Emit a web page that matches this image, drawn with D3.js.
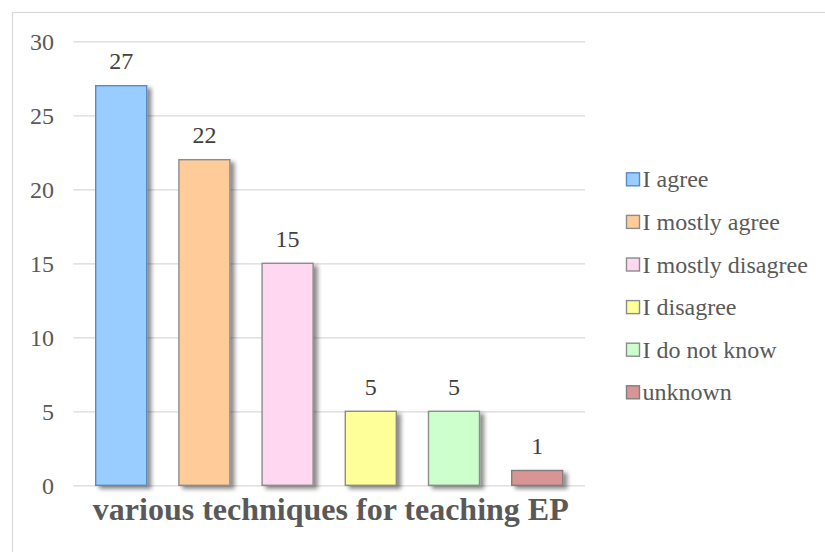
<!DOCTYPE html>
<html>
<head>
<meta charset="utf-8">
<script src="https://cdn.jsdelivr.net/npm/d3@7"></script>
<style>
  html, body { margin: 0; padding: 0; background: #ffffff; }
  svg { display: block; }
  text { font-family: "Liberation Serif", "Times New Roman", serif; }
</style>
</head>
<body>
<svg id="chart" width="825" height="552"></svg>
<script>
// Survey answers about various techniques for teaching EP
const categories = ["I agree", "I mostly agree", "I mostly disagree", "I disagree", "I do not know", "unknown"];
const counts = [27, 22, 15, 5, 5, 1];
const fills = ["#99ccff", "#ffcc99", "#ffd7f1", "#ffff99", "#ccffcc", "#d99594"];
const strokes = ["#5a8ac6", "#8c8c8c", "#8c8c8c", "#8c8c8c", "#8c8c8c", "#7f7f7f"];
const yTicks = [0, 5, 10, 15, 20, 25, 30];
const axisTitle = "various techniques for teaching EP";

const svg = d3.select("#chart");

// soft drop shadow under each bar
const defs = svg.append("defs");
const shadow = defs.append("filter").attr("id", "barShadow")
  .attr("x", "-20%").attr("y", "-20%").attr("width", "160%").attr("height", "160%");
shadow.append("feDropShadow")
  .attr("dx", 4).attr("dy", 3).attr("stdDeviation", 2.2)
  .attr("flood-color", "#000").attr("flood-opacity", 0.45);

// chart frame
svg.append("rect")
  .attr("x", 12.5).attr("y", 12.5).attr("width", 900).attr("height", 900)
  .attr("fill", "none").attr("stroke", "#d9d9d9").attr("stroke-width", 1.2);

const plotLeft = 73.3, plotRight = 585;
const y = d3.scaleLinear().domain([0, 30]).range([485.3, 41.3]);
const x = d3.scaleBand().domain(categories)
  .range([79.6, 578.8]).paddingInner(0.387).paddingOuter(0.1935);

// horizontal gridlines and value axis
const yAxis = d3.axisLeft(y).tickValues(yTicks).tickSize(-(plotRight - plotLeft)).tickPadding(20);
const gy = svg.append("g").attr("transform", `translate(${plotLeft},0)`).call(yAxis);
gy.select(".domain").remove();
gy.selectAll(".tick line").attr("stroke", "#d9d9d9").attr("stroke-width", 1.3);
gy.selectAll(".tick text")
  .attr("x", 54 - plotLeft)
  .attr("dy", null)
  .attr("y", 8.3)
  .attr("fill", "#595959")
  .style("font-family", "'Liberation Serif', 'Times New Roman', serif")
  .style("font-size", "24px");

// bars
svg.append("g").selectAll("rect")
  .data(counts)
  .join("rect")
  .attr("x", (d, i) => x(categories[i]))
  .attr("y", d => y(d))
  .attr("width", x.bandwidth())
  .attr("height", d => y(0) - y(d))
  .attr("fill", (d, i) => fills[i])
  .attr("stroke", (d, i) => strokes[i])
  .attr("stroke-width", 1.4)
  .attr("filter", "url(#barShadow)");

// value labels above bars
svg.append("g").selectAll("text")
  .data(counts)
  .join("text")
  .attr("x", (d, i) => x(categories[i]) + x.bandwidth() / 2)
  .attr("y", d => y(d) - 16.5)
  .attr("text-anchor", "middle")
  .attr("fill", "#404040")
  .style("font-size", "24px")
  .text(d => d);

// category axis title
svg.append("text")
  .attr("x", 330.8)
  .attr("y", 520)
  .attr("text-anchor", "middle")
  .attr("fill", "#595959")
  .style("font-size", "32px")
  .style("font-weight", "bold")
  .text(axisTitle);

// legend
const legend = svg.append("g").selectAll("g")
  .data(categories)
  .join("g")
  .attr("transform", (d, i) => `translate(0,${179.3 + i * 42.6})`);
legend.append("rect")
  .attr("x", 626.5).attr("y", -6.5).attr("width", 13).attr("height", 13)
  .attr("fill", (d, i) => fills[i])
  .attr("stroke", (d, i) => strokes[i])
  .attr("stroke-width", 1.4);
legend.append("text")
  .attr("x", 642.5).attr("y", 8)
  .attr("fill", "#595959")
  .style("font-size", "24px")
  .text(d => d);
</script>
</body>
</html>
